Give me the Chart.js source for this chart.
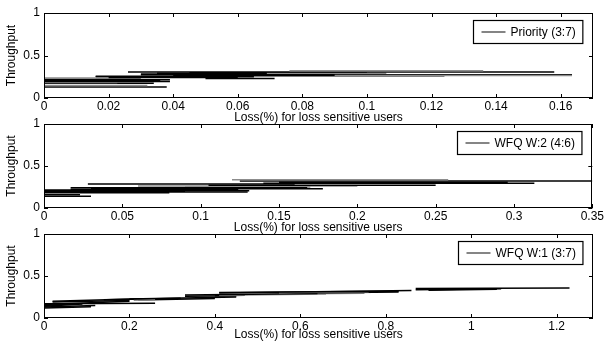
<!DOCTYPE html>
<html><head><meta charset="utf-8">
<script src="https://cdn.jsdelivr.net/npm/chart.js@4.4.0/dist/chart.umd.min.js"></script>
<style>
html,body{margin:0;padding:0;background:#fff;}
#wrap{position:relative;width:605px;height:344px;overflow:hidden;background:#fff;}
canvas{position:absolute;left:0;}
</style></head><body>
<div id="wrap">
<canvas id="c1" width="605" height="125" style="top:0px;width:605px;height:125px"></canvas>
<canvas id="c2" width="605" height="125" style="top:110px;width:605px;height:125px"></canvas>
<canvas id="c3" width="605" height="122" style="top:220px;width:605px;height:122px"></canvas>
</div>
<script>
// ---------------- data ----------------
const xLabel = 'Loss(%) for loss sensitive users';
const yLabel = 'Throughput';
const legendLabels = ['Priority (3:7)', 'WFQ W:2 (4:6)', 'WFQ W:1 (3:7)'];
const xMax = [0.17, 0.35, 1.285];
const yTicks = [0, 0.5, 1];
const yTickLabels = ['0', '0.5', '1'];
const xTicks1 = [0, 0.02, 0.04, 0.06, 0.08, 0.1, 0.12, 0.14, 0.16];
const xTickLabels1 = ['0', '0.02', '0.04', '0.06', '0.08', '0.1', '0.12', '0.14', '0.16'];
const xTicks2 = [0, 0.05, 0.1, 0.15, 0.2, 0.25, 0.3, 0.35];
const xTickLabels2 = ['0', '0.05', '0.1', '0.15', '0.2', '0.25', '0.3', '0.35'];
const xTicks3 = [0, 0.2, 0.4, 0.6, 0.8, 1, 1.2];
const xTickLabels3 = ['0', '0.2', '0.4', '0.6', '0.8', '1', '1.2'];

// Priority (3:7): segments start/end loss, start/end throughput
const p1X0 = [0.076, 0.026, 0.069, 0.090, 0.030, 0.040, 0.0574, 0.030, 0.035, 0.045, 0.016, 0.020, 0.050, 0.000, 0.000, 0.000, 0.000, 0.000, 0.000, 0.000, 0.000, 0.016, 0.040, 0.000];
const p1X1 = [0.136, 0.158, 0.106, 0.1635, 0.1635, 0.124, 0.092, 0.090, 0.070, 0.100, 0.065, 0.060, 0.0714, 0.016, 0.039, 0.036, 0.039, 0.0227, 0.034, 0.032, 0.038, 0.055, 0.068, 0.030];
const p1Y0 = [0.322, 0.305, 0.290, 0.265, 0.275, 0.262, 0.268, 0.282, 0.290, 0.298, 0.250, 0.240, 0.228, 0.236, 0.215, 0.205, 0.195, 0.183, 0.175, 0.148, 0.128, 0.256, 0.285, 0.222];
const p1Y1 = [0.322, 0.305, 0.290, 0.265, 0.275, 0.262, 0.268, 0.282, 0.290, 0.298, 0.250, 0.240, 0.228, 0.236, 0.215, 0.205, 0.195, 0.183, 0.175, 0.148, 0.128, 0.256, 0.285, 0.222];

// WFQ W:2 (4:6)
const p2X0 = [0.120, 0.125, 0.150, 0.140, 0.028, 0.105, 0.060, 0.017, 0.040, 0.017, 0.000, 0.000, 0.000, 0.000, 0.000, 0.000, 0.090, 0.160, 0.030, 0.000];
const p2X1 = [0.258, 0.350, 0.296, 0.313, 0.160, 0.250, 0.200, 0.168, 0.178, 0.124, 0.131, 0.130, 0.090, 0.080, 0.023, 0.030, 0.170, 0.240, 0.120, 0.100];
const p2Y0 = [0.335, 0.322, 0.307, 0.296, 0.286, 0.270, 0.262, 0.242, 0.228, 0.222, 0.206, 0.190, 0.198, 0.182, 0.157, 0.140, 0.250, 0.300, 0.235, 0.214];
const p2Y1 = [0.335, 0.322, 0.307, 0.296, 0.286, 0.270, 0.262, 0.242, 0.228, 0.222, 0.206, 0.190, 0.198, 0.182, 0.157, 0.140, 0.250, 0.300, 0.235, 0.214];

// WFQ W:1 (3:7)
const p3X0 = [0.87, 0.87, 0.90, 0.41, 0.55, 0.60, 0.33, 0.41, 0.40, 0.33, 0.20, 0.21, 0.14, 0.02, 0.02, 0.00, 0.00, 0.00, 0.00, 0.00, 0.00, 0.22, 0.60, 0.41];
const p3X1 = [1.23, 1.07, 1.06, 0.83, 0.76, 0.83, 0.64, 0.66, 0.47, 0.45, 0.45, 0.26, 0.32, 0.23, 0.20, 0.26, 0.20, 0.12, 0.11, 0.09, 0.06, 0.40, 0.75, 0.86];
const p3Y0 = [0.350, 0.335, 0.330, 0.305, 0.300, 0.298, 0.275, 0.272, 0.265, 0.258, 0.225, 0.210, 0.218, 0.200, 0.190, 0.170, 0.160, 0.130, 0.118, 0.140, 0.150, 0.215, 0.290, 0.298];
const p3Y1 = [0.356, 0.348, 0.342, 0.318, 0.312, 0.310, 0.292, 0.285, 0.270, 0.264, 0.250, 0.216, 0.236, 0.228, 0.208, 0.176, 0.198, 0.148, 0.134, 0.168, 0.168, 0.232, 0.296, 0.326];

// ---------------- styles ----------------
const p1Tone = ['g','k','g','g','k','k','g','k','k','k','k','k','k','g','k','k','k','g','k','g','k','k','k','k'];
const p2Tone = ['g','k','k','k','k','k','g','k','k','k','k','k','k','k','k','k','g','g','k','k'];
const p3Tone = ['k','k','k','k','g','k','k','g','k','k','k','g','k','k','k','k','k','k','k','k','k','k','g','k'];
const FONT = '"Liberation Sans", Arial, Helvetica, sans-serif';
Chart.defaults.font.family = FONT;
Chart.defaults.font.size = 12;
Chart.defaults.color = '#000';

const framePlugin = {
  id: 'frame',
  afterDatasetsDraw(chart) {
    const {ctx, chartArea: a, scales: {x, y}} = chart;
    const label = chart.options.plugins.frame.label;
    ctx.save();
    ctx.strokeStyle = '#000';
    ctx.lineWidth = 1;
    ctx.strokeRect(Math.round(a.left) + 0.5, Math.round(a.top) + 0.5,
                   Math.round(a.right - a.left) - 1, Math.round(a.bottom - a.top) - 1);
    ctx.beginPath();
    x.ticks.forEach(t => {
      const px = Math.round(x.getPixelForValue(t.value)) + 0.5;
      ctx.moveTo(px, a.bottom); ctx.lineTo(px, a.bottom - 4);
      ctx.moveTo(px, a.top); ctx.lineTo(px, a.top + 4);
    });
    y.ticks.forEach(t => {
      const py = Math.round(y.getPixelForValue(t.value)) + 0.5;
      ctx.moveTo(a.left, py); ctx.lineTo(a.left + 4, py);
      ctx.moveTo(a.right, py); ctx.lineTo(a.right - 4, py);
    });
    ctx.stroke();
    // legend box
    ctx.font = '12px ' + FONT;
    const tw = ctx.measureText(label).width;
    const w = 37 + tw + 7, h = 23;
    const bx = Math.round(a.right - 11 - w) + 0.5, by = Math.round(a.top + 7) + 0.5;
    ctx.fillStyle = '#fff';
    ctx.fillRect(bx, by, w, h);
    ctx.lineWidth = 1.2;
    ctx.strokeRect(bx, by, w, h);
    ctx.beginPath();
    ctx.strokeStyle = '#333';
    ctx.lineWidth = 1.2;
    ctx.moveTo(bx + 8, by + h / 2); ctx.lineTo(bx + 32, by + h / 2);
    ctx.stroke();
    ctx.fillStyle = '#000';
    ctx.textBaseline = 'middle';
    ctx.textAlign = 'left';
    ctx.fillText(label, bx + 37, by + h / 2 + 0.5);
    ctx.restore();
  }
};

function makeChart(id, i, xs0, xs1, ys0, ys1, tones, xt, xtl, topPad, xH) {
  const datasets = xs0.map((_, k) => ({
    data: [{x: xs0[k], y: ys0[k]}, {x: xs1[k], y: ys1[k]}],
    showLine: true, pointRadius: 0, fill: false,
    borderColor: tones[k] === 'g' ? '#8c8c8c' : '#000',
    borderWidth: 1.5
  }));
  return new Chart(document.getElementById(id), {
    type: 'scatter',
    data: {datasets},
    options: {
      responsive: false, animation: false, events: [],
      layout: {padding: {top: topPad, right: 12, bottom: 0, left: 0}},
      plugins: {legend: {display: false}, tooltip: {enabled: false}, frame: {label: legendLabels[i]}},
      scales: {
        x: {
          type: 'linear', min: 0, max: xMax[i],
          afterBuildTicks: s => { s.ticks = xt.map(v => ({value: v})); },
          afterFit: s => { s.height = xH; },
          ticks: {callback: (v, idx) => xtl[idx], padding: 1, maxRotation: 0, autoSkip: false, color: '#000'},
          grid: {display: false, drawTicks: false},
          border: {display: false},
          title: {display: true, text: xLabel, color: '#000', padding: {top: 0, bottom: 0}}
        },
        y: {
          type: 'linear', min: 0, max: 1,
          afterBuildTicks: s => { s.ticks = yTicks.map(v => ({value: v})); },
          afterFit: s => { s.width = 44; },
          ticks: {callback: (v, idx) => yTickLabels[idx], padding: 4, autoSkip: false, color: '#000'},
          grid: {display: false, drawTicks: false},
          border: {display: false},
          title: {display: true, text: yLabel, color: '#000', padding: {top: 4, bottom: 0}}
        }
      }
    },
    plugins: [framePlugin]
  });
}

makeChart('c1', 0, p1X0, p1X1, p1Y0, p1Y1, p1Tone, xTicks1, xTickLabels1, 13, 27);
makeChart('c2', 1, p2X0, p2X1, p2Y0, p2Y1, p2Tone, xTicks2, xTickLabels2, 14, 27);
makeChart('c3', 2, p3X0, p3X1, p3Y0, p3Y1, p3Tone, xTicks3, xTickLabels3, 14, 24);
</script>
</body></html>
